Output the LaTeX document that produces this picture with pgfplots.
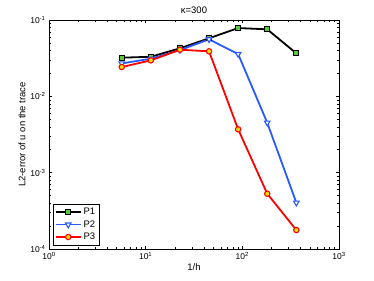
\documentclass[border=0pt]{standalone}
\usepackage{fontspec}
\setmainfont{Liberation Sans}
\usepackage{pgfplots}
\pgfplotsset{compat=1.18}
\definecolor{pblue}{RGB}{40,90,255}
\definecolor{pgreen}{RGB}{90,200,60}
\definecolor{pyellow}{RGB}{230,230,0}
\begin{document}
\begin{tikzpicture}
\begin{axis}[
  xmode=log, ymode=log,
  scale only axis, width=290bp, height=229bp,
  xmin=1, xmax=1000, ymin=1e-4, ymax=1e-1,
  xtick={1,10,100,1000},
  xticklabels={10\textsuperscript{0},10\textsuperscript{1},10\textsuperscript{2},10\textsuperscript{3}},
  ytick={1e-4,1e-3,1e-2,1e-1},
  yticklabels={10\textsuperscript{-4},10\textsuperscript{-3},10\textsuperscript{-2},10\textsuperscript{-1}},
  tick label style={font=\fontsize{8.5}{9}\selectfont},
  label style={font=\fontsize{9.5}{10}\selectfont},
  title style={font=\fontsize{9.5}{10}\selectfont, yshift=-3pt},
  title={κ=300},
  xlabel={1/h},
  ylabel={L2-error of u on the trace},
  xlabel style={yshift=3pt},
  ylabel style={yshift=-2pt},
  major tick length=3pt, minor tick length=1.6pt,
  every tick/.style={black, line width=0.4pt},
  axis line style={line width=0.5pt},
  legend style={font=\fontsize{9.5}{10}\selectfont, draw=black, line width=0.6pt, inner sep=1.8pt, row sep=0.3pt, at={(0.013,0.017)}, anchor=south west},
  legend cell align=left,
  legend image code/.code={\draw[#1] (0pt,0pt) -- (12.5bp,0pt) -- (25bp,0pt); \draw[#1, only marks] plot coordinates {(12.5bp,0pt)};},
]
\addplot[draw=black, line width=1.8pt, mark=square*, mark size=2.4pt, mark options={fill=pgreen, draw=black, line width=1.1pt}]
  coordinates {(5.657,0.0321) (11.31,0.0330) (22.63,0.0426) (45.25,0.0576) (90.51,0.0785) (181.0,0.0755) (362.0,0.0366)};
\addlegendentry{P1}
\addplot[draw=pblue, line width=1.8pt, mark=triangle*, mark size=3.2pt, mark options={rotate=180, fill=white, draw=pblue, line width=1.1pt}]
  coordinates {(5.657,0.0270) (11.31,0.0311) (22.63,0.0404) (45.25,0.0558) (90.51,0.0358) (181.0,0.00451) (362.0,0.000404)};
\addlegendentry{P2}
\addplot[draw=red, line width=1.8pt, mark=*, mark size=2.7pt, mark options={fill=pyellow, draw=red, line width=1.1pt}]
  coordinates {(5.657,0.0242) (11.31,0.0296) (22.63,0.0408) (45.25,0.0389) (90.51,0.00370) (181.0,0.00053) (362.0,0.000177)};
\addlegendentry{P3}
\end{axis}
\useasboundingbox ([shift={(-49bp,-32bp)}]current axis.south west) rectangle ([shift={(35bp,20bp)}]current axis.north east);
\end{tikzpicture}
\end{document}
